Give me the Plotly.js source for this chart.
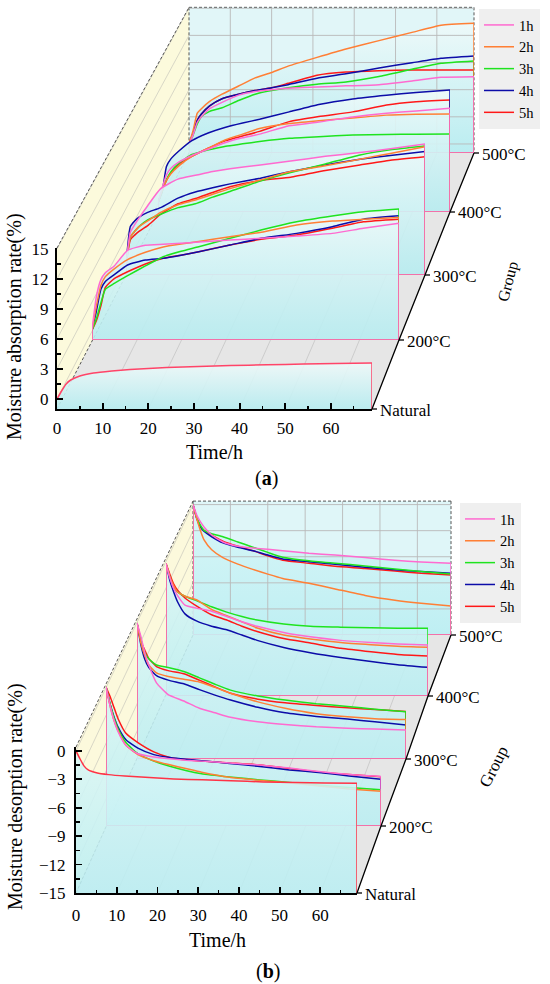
<!DOCTYPE html>
<html>
<head>
<meta charset="utf-8">
<script src="https://cdn.plot.ly/plotly-3.0.1.min.js"></script>
<style>
html,body{margin:0;padding:0;background:#fff;}
#chart{width:550px;height:984px;}
</style>
</head>
<body>
<div id="chart"></div>
<script>
// ================= DATA =================
const time = [0, 1, 2, 3, 5, 8, 12, 16, 20, 24, 31, 38, 46, 54, 61, 69];
const seriesNames = ['1h', '2h', '3h', '4h', '5h'];
const groupNames = ['Natural', '200°C', '300°C', '400°C', '500°C'];
const gridTimes = [10, 20, 30, 40, 50, 60];
const absTicks = [0, 3, 6, 9, 12, 15];
const desTicks = [-15, -12, -9, -6, -3, 0];

// (a) Moisture absorption rate (%) — series order 1h, 2h, 3h, 4h, 5h
const absNatural = [0, 0.8, 1.5, 1.9, 2.3, 2.6, 2.8, 2.95, 3.05, 3.15, 3.25, 3.35, 3.42, 3.5, 3.55, 3.6];
const abs200 = [
  [0, 3.5, 5.2, 5.9, 6.6, 8.2, 8.72, 8.82, 8.92, 9.05, 9.26, 9.43, 9.67, 9.94, 10.46, 10.97],
  [0, 2.5, 4.6, 5.5, 6.3, 7.25, 8.0, 8.55, 8.85, 9.1, 9.6, 10.05, 10.8, 11.2, 11.38, 11.58],
  [0, 1.2, 2.8, 4.2, 4.8, 5.6, 6.6, 7.54, 8.1, 8.57, 9.43, 10.28, 11.13, 11.72, 12.16, 12.44],
  [0, 2.0, 4.2, 5.0, 5.7, 6.7, 7.2, 7.38, 7.7, 8.06, 8.74, 9.43, 9.94, 10.62, 11.4, 11.74],
  [0, 1.0, 2.5, 4.4, 5.3, 6.0, 6.8, 7.38, 7.7, 8.06, 8.74, 9.33, 9.77, 10.46, 11.13, 11.4]
];
const abs300 = [
  [0, 3.5, 4.3, 5.0, 6.3, 8.1, 9.1, 9.5, 9.9, 10.2, 10.6, 11.0, 11.5, 11.9, 12.3, 12.8],
  [0, 3.0, 3.6, 4.1, 4.7, 5.6, 6.4, 6.9, 7.5, 8.1, 9.0, 9.9, 10.5, 11.2, 11.8, 12.5],
  [0, 3.0, 3.6, 4.1, 4.8, 5.4, 6.1, 6.5, 7.2, 7.8, 8.9, 9.8, 10.7, 11.65, 12.2, 12.6],
  [0, 4.1, 4.7, 5.1, 5.6, 6.1, 7.1, 7.75, 8.2, 8.6, 9.2, 9.9, 10.6, 11.2, 11.6, 12.0],
  [0, 2.7, 3.2, 3.6, 4.2, 5.4, 6.5, 7.05, 7.7, 8.3, 8.95, 9.3, 10.0, 10.6, 11.1, 11.47]
];
const abs400 = [
  [0, 1.6, 3.0, 3.7, 4.4, 5.1, 5.8, 6.5, 7.0, 7.4, 8.3, 8.7, 9.25, 9.65, 9.9, 10.19],
  [0, 1.3, 2.4, 3.1, 4.0, 5.0, 5.9, 6.8, 7.4, 8.0, 8.55, 8.85, 9.15, 9.45, 9.55, 9.57],
  [0, 1.3, 2.5, 3.3, 4.3, 5.2, 5.7, 6.1, 6.35, 6.6, 6.95, 7.12, 7.3, 7.35, 7.4, 7.41],
  [0, 1.2, 3.9, 4.7, 5.6, 6.7, 7.55, 8.15, 8.6, 9.0, 9.8, 10.6, 11.2, 11.6, 11.9, 12.16],
  [0, 1.3, 2.4, 3.2, 4.2, 5.0, 5.9, 6.7, 7.2, 7.7, 8.75, 9.3, 9.8, 10.55, 10.9, 11.08]
];
const abs500 = [
  [0, 1.0, 2.4, 3.0, 3.9, 4.6, 5.4, 5.8, 6.0, 6.15, 6.3, 6.42, 6.55, 6.95, 7.36, 7.43],
  [0, 1.5, 3.4, 3.9, 4.7, 5.5, 6.4, 7.3, 7.9, 8.6, 9.57, 10.5, 11.42, 12.33, 13.13, 13.33],
  [0, 1.0, 2.2, 3.0, 3.6, 4.0, 4.8, 5.5, 5.9, 6.2, 6.6, 6.85, 7.45, 8.25, 8.91, 9.17],
  [0, 1.2, 2.6, 3.3, 4.2, 5.0, 5.5, 5.9, 6.2, 6.55, 7.27, 7.75, 8.4, 8.97, 9.46, 9.72],
  [0, 1.2, 2.6, 3.3, 4.2, 5.0, 5.5, 5.9, 6.2, 6.7, 7.6, 7.95, 8.1, 8.17, 8.17, 8.17]
];

// (b) Moisture desorption rate (%)
const desNatural = [0, -0.85, -1.6, -2.0, -2.3, -2.5, -2.65, -2.75, -2.85, -2.95, -3.05, -3.15, -3.27, -3.33, -3.38, -3.42];
const des200 = [
  [0, -2.0, -3.6, -4.8, -6.3, -7.2, -7.55, -7.75, -7.9, -8.0, -8.2, -8.4, -8.75, -9.15, -9.45, -9.65],
  [0, -2.0, -3.6, -4.7, -6.3, -7.3, -7.95, -8.4, -8.8, -9.2, -9.75, -10.05, -10.35, -10.7, -11.0, -11.25],
  [0, -1.8, -3.3, -4.5, -6.0, -7.2, -8.0, -8.55, -9.0, -9.35, -9.7, -10.0, -10.3, -10.6, -10.85, -11.1],
  [0, -1.8, -3.2, -4.3, -5.7, -6.6, -7.3, -7.6, -7.8, -7.95, -8.25, -8.55, -8.95, -9.25, -9.6, -9.96],
  [0, -1.0, -2.2, -3.4, -5.0, -6.0, -7.0, -7.6, -7.85, -8.0, -8.2, -8.4, -8.8, -9.2, -9.45, -9.68]
];
const des300 = [
  [0, -1.5, -3.3, -4.6, -6.6, -7.9, -8.6, -9.4, -9.9, -10.4, -10.9, -11.2, -11.45, -11.6, -11.7, -11.8],
  [0, -2.2, -3.6, -4.6, -5.5, -5.9, -6.2, -6.5, -7.1, -7.75, -8.7, -9.4, -10.0, -10.35, -10.55, -10.65],
  [0, -1.8, -3.3, -3.95, -4.63, -4.9, -5.35, -6.05, -6.75, -7.4, -8.05, -8.5, -8.9, -9.2, -9.5, -9.78],
  [0, -2.4, -4.0, -4.9, -5.8, -6.3, -6.7, -7.35, -7.95, -8.5, -9.3, -9.9, -10.3, -10.6, -10.9, -11.25],
  [0, -2.0, -3.0, -3.9, -4.8, -5.25, -5.6, -6.3, -7.05, -7.75, -8.4, -8.8, -9.1, -9.35, -9.55, -9.75]
];
const des400 = [
  [0, -1.6, -2.8, -3.6, -4.7, -5.05, -5.4, -6.0, -6.6, -7.1, -7.8, -8.3, -8.7, -8.95, -9.1, -9.22],
  [0, -1.5, -2.5, -3.2, -3.7, -4.1, -5.2, -5.9, -6.6, -7.3, -8.1, -8.55, -8.95, -9.2, -9.38, -9.49],
  [0, -1.5, -2.7, -3.2, -3.7, -4.2, -4.9, -5.5, -6.0, -6.4, -6.85, -7.1, -7.2, -7.28, -7.32, -7.34],
  [0, -1.9, -3.2, -4.3, -5.7, -6.5, -7.1, -7.5, -8.1, -8.7, -9.5, -10.1, -10.65, -11.1, -11.45, -11.75],
  [0, -1.2, -2.3, -3.0, -3.9, -4.8, -5.8, -6.4, -7.1, -7.7, -8.5, -9.0, -9.6, -10.0, -10.3, -10.47]
];
const des500 = [
  [0, -1.2, -2.0, -2.6, -3.5, -4.3, -4.8, -5.0, -5.15, -5.3, -5.6, -5.8, -6.1, -6.4, -6.6, -6.76],
  [0, -1.6, -3.0, -4.1, -5.2, -6.1, -6.85, -7.45, -8.0, -8.5, -9.05, -9.7, -10.45, -11.0, -11.35, -11.66],
  [0, -1.5, -2.4, -3.0, -3.35, -3.7, -4.3, -4.9, -5.5, -6.05, -6.46, -6.75, -7.05, -7.4, -7.7, -7.98],
  [0, -1.6, -2.6, -3.1, -3.7, -4.4, -4.9, -5.3, -5.8, -6.25, -6.57, -6.85, -7.2, -7.5, -7.7, -7.9],
  [0, -1.5, -2.5, -3.0, -3.5, -4.2, -4.8, -5.3, -5.9, -6.4, -6.75, -7.1, -7.35, -7.65, -7.9, -8.1]
];

// ================= STYLE / GEOMETRY =================
const W = 550, H = 984, T_MAX = 69;
const FONT = '"Liberation Serif", "Times New Roman", Times, serif';
const LINE_COLORS = ['#ff6ad0', '#ff7f35', '#1fe31f', '#0c0ca8', '#ff1818'];

const panels = [
  {
    natural: absNatural, groups: [null, abs200, abs300, abs400, abs500], ticks: absTicks,
    yRange: [-1, 15.1], base: -1, unit: 10,
    left: [57, 92, 126, 158, 189], right: [372, 399, 425, 450, 474], bottom: [409, 340, 275, 212, 153],
    natColor: '#ff4468',
    fillScale: [[0, 'rgba(182,236,240,0.9)'], [1, 'rgba(238,249,249,0.9)']],
    backColor: '#e1f6f8', wallColor: '#fcfadc', floorColor: '#e6e6e6',
    legend: 'legend', legendPos: [479, 9],
    yTitle: 'Moisture absorption rate(%)', yTitlePos: [15, 327], xTitlePos: [214, 452],
    tag: '(<b>a</b>)', tagPos: [266, 478], groupTitlePos: [508, 282], groupTitleAngle: -75, groupTitleSize: 16,
    xStandoff: 3, yStandoff: 3
  },
  {
    natural: desNatural, groups: [null, des200, des300, des400, des500], ticks: desTicks,
    yRange: [-15, 0.4], base: -15, unit: 9.47,
    left: [76, 106, 137, 166, 193], right: [357, 381, 406, 428, 451], bottom: [893, 826, 759, 696, 635],
    natColor: '#ff3346',
    fillScale: [[0, 'rgba(186,238,242,0.88)'], [1, 'rgba(216,246,247,0.88)']],
    backColor: '#dff6f8', wallColor: '#fcf9dc', floorColor: '#e6e6e6',
    legend: 'legend2', legendPos: [460, 503],
    yTitle: 'Moisture desorption rate(%)', yTitlePos: [15, 797], xTitlePos: [217, 940],
    tag: '(<b>b</b>)', tagPos: [268, 971], groupTitlePos: [493, 767], groupTitleAngle: -63, groupTitleSize: 17,
    xStandoff: 6, yStandoff: 5
  }
];

const px = x => x / W;
const py = y => 1 - y / H;

function pathOf(pts, close) {
  return 'M' + pts.map(p => px(p[0]).toFixed(5) + ',' + py(p[1]).toFixed(5)).join(' L') + (close ? ' Z' : '');
}

const traces = [];
const shapes = [];
const annotations = [];
const layout = {
  width: W, height: H,
  margin: {l: 0, r: 0, t: 0, b: 0},
  paper_bgcolor: '#ffffff',
  plot_bgcolor: 'rgba(0,0,0,0)',
  showlegend: true,
  hovermode: false,
  font: {family: FONT, color: '#000'}
};

panels.forEach((P, p) => {
  const w0 = P.right[0] - P.left[0];
  const span = P.yRange[1] - P.yRange[0];
  const top = P.bottom.map((b, g) => b - P.unit * span * (P.right[g] - P.left[g]) / w0);
  const X = (g, t) => P.left[g] + (P.right[g] - P.left[g]) * t / T_MAX;
  const Y = (g, v) => P.bottom[g] - (P.bottom[g] - top[g]) * (v - P.yRange[0]) / span;

  // ---- box planes ----
  shapes.push({type: 'path', xref: 'paper', yref: 'paper', layer: 'below',
    path: pathOf([[P.left[4], top[4]], [P.right[4], top[4]], [P.right[4], P.bottom[4]], [P.left[4], P.bottom[4]]], true),
    fillcolor: P.backColor, line: {width: 0}});
  shapes.push({type: 'path', xref: 'paper', yref: 'paper', layer: 'below',
    path: pathOf([[P.left[0], P.bottom[0]], [P.left[0], top[0]], [P.left[4], top[4]], [P.left[4], P.bottom[4]]], true),
    fillcolor: P.wallColor, line: {width: 0}});
  shapes.push({type: 'path', xref: 'paper', yref: 'paper', layer: 'below',
    path: pathOf([[P.left[0], P.bottom[0]], [P.right[0], P.bottom[0]], [P.right[4], P.bottom[4]], [P.left[4], P.bottom[4]]], true),
    fillcolor: P.floorColor, line: {width: 0}});
  // depth grid on the side wall and floor
  P.ticks.forEach(v => {
    shapes.push({type: 'line', xref: 'paper', yref: 'paper', layer: 'below',
      x0: px(P.left[0]), y0: py(Y(0, v)), x1: px(P.left[4]), y1: py(Y(4, v)),
      line: {color: 'rgba(170,170,170,0.55)', width: 0.8}});
  });
  gridTimes.forEach(t => {
    shapes.push({type: 'line', xref: 'paper', yref: 'paper', layer: 'below',
      x0: px(X(0, t)), y0: py(P.bottom[0]), x1: px(X(4, t)), y1: py(P.bottom[4]),
      line: {color: 'rgba(175,175,175,0.6)', width: 0.8}});
  });
  // dashed box edges
  const dashed = [
    [[P.left[0], top[0]], [P.left[4], top[4]]],
    [[P.left[4], top[4]], [P.right[4], top[4]]],
    [[P.right[4], top[4]], [P.right[4], P.bottom[4]]],
    [[P.left[4], top[4]], [P.left[4], P.bottom[4]]],
    [[P.left[0], P.bottom[0]], [P.left[4], P.bottom[4]]]
  ];
  dashed.forEach(seg => {
    shapes.push({type: 'line', xref: 'paper', yref: 'paper', layer: 'below',
      x0: px(seg[0][0]), y0: py(seg[0][1]), x1: px(seg[1][0]), y1: py(seg[1][1]),
      line: {color: '#555', width: 1, dash: '3px,2px'}});
  });
  // group (depth) axis
  shapes.push({type: 'path', xref: 'paper', yref: 'paper', layer: 'above',
    path: pathOf(P.right.map((r, g) => [r, P.bottom[g]]), false),
    line: {color: '#000', width: 1.3}});
  P.right.forEach((r, g) => {
    shapes.push({type: 'line', xref: 'paper', yref: 'paper', layer: 'above',
      x0: px(r), y0: py(P.bottom[g]), x1: px(r + 5), y1: py(P.bottom[g]),
      line: {color: '#000', width: 1.3}});
    annotations.push({xref: 'paper', yref: 'paper', x: px(r + 6), y: py(P.bottom[g] + 1),
      xanchor: 'left', yanchor: 'middle', showarrow: false, text: groupNames[g],
      font: {family: FONT, size: 17, color: '#000'}});
  });

  // ---- walls: back (500°C) first, Natural last ----
  for (let g = 4; g >= 0; g--) {
    const n = p * 5 + (4 - g) + 1;
    const xr = n === 1 ? 'x' : 'x' + n;
    const yr = n === 1 ? 'y' : 'y' + n;
    const list = g === 0 ? [P.natural] : P.groups[g];
    const colors = g === 0 ? [P.natColor] : LINE_COLORS;
    const last = time.length - 1;
    const envelope = time.map((_, i) => Math.max(...list.map(s => s[i])));

    traces.push({type: 'scatter', xaxis: xr, yaxis: yr, mode: 'none', hoverinfo: 'skip', showlegend: false,
      x: [...time, time[last], time[0]], y: [...envelope, P.base, P.base],
      fill: 'toself', fillcolor: P.fillScale[0][1],
      fillgradient: {type: 'vertical', colorscale: P.fillScale}});

    if (g === 4) {
      const gx = [], gy = [];
      gridTimes.forEach(t => { gx.push(t, t, null); gy.push(P.yRange[0], P.yRange[1], null); });
      P.ticks.forEach(v => { gx.push(0, T_MAX, null); gy.push(v, v, null); });
      traces.push({type: 'scatter', xaxis: xr, yaxis: yr, mode: 'lines', hoverinfo: 'skip', showlegend: false,
        x: gx, y: gy, line: {color: 'rgba(185,185,185,0.9)', width: 1}});
    }

    for (let k = list.length - 1; k >= 0; k--) {
      const s = list[k];
      // wall outline: drop line at the end, base line and start riser (front wall: drop line only, axes cover the rest)
      const ex = g === 0 ? [time[last], time[last]] : [time[last], time[last], time[0], time[0]];
      const ey = g === 0 ? [s[last], P.base] : [s[last], P.base, P.base, s[0]];
      traces.push({type: 'scatter', xaxis: xr, yaxis: yr, mode: 'lines', hoverinfo: 'skip', showlegend: false,
        x: ex, y: ey, line: {color: colors[k], width: 1.5}});
      traces.push({type: 'scatter', xaxis: xr, yaxis: yr, mode: 'lines', hoverinfo: 'skip',
        x: time, y: s, name: g === 0 ? 'Natural' : seriesNames[k],
        line: {color: colors[k], width: 1.5, shape: 'spline', smoothing: 0.5},
        showlegend: g === 4, legend: P.legend, legendrank: k + 1});
    }

    const isFront = g === 0;
    layout[n === 1 ? 'xaxis' : 'xaxis' + n] = {
      domain: [px(P.left[g]), px(P.right[g])], range: [0, T_MAX], anchor: yr,
      visible: isFront, fixedrange: true, showgrid: false, zeroline: false,
      showline: true, linecolor: '#000', linewidth: 2,
      ticks: 'inside', ticklen: 6, tickwidth: 1.8, tickcolor: '#000', tick0: 0, dtick: 10,
      minor: {ticks: 'inside', ticklen: 3.5, tickwidth: 1.5, tickcolor: '#000', dtick: 5, showgrid: false},
      tickfont: {family: FONT, size: 17, color: '#000'}, ticklabelstandoff: P.xStandoff
    };
    layout[n === 1 ? 'yaxis' : 'yaxis' + n] = {
      domain: [py(P.bottom[g]), py(top[g])], range: P.yRange, anchor: xr,
      visible: isFront, fixedrange: true, showgrid: false, zeroline: false,
      showline: true, linecolor: '#000', linewidth: 2,
      ticks: 'inside', ticklen: 6, tickwidth: 1.8, tickcolor: '#000', tick0: 0, dtick: 3,
      minor: {ticks: 'inside', ticklen: 3.5, tickwidth: 1.5, tickcolor: '#000', dtick: 1.5, showgrid: false},
      tickfont: {family: FONT, size: 17, color: '#000'}, ticklabelstandoff: P.yStandoff
    };
  }

  // ---- legend ----
  layout[P.legend] = {
    x: px(P.legendPos[0]), y: py(P.legendPos[1]), xanchor: 'left', yanchor: 'top',
    bgcolor: '#efefef', borderwidth: 0, traceorder: 'normal', tracegroupgap: 0,
    font: {family: FONT, size: 14.5, color: '#000'}
  };

  // ---- titles ----
  annotations.push({xref: 'paper', yref: 'paper', x: px(P.yTitlePos[0]), y: py(P.yTitlePos[1]),
    xanchor: 'center', yanchor: 'middle', textangle: -90, showarrow: false, text: P.yTitle,
    font: {family: FONT, size: 20, color: '#000'}});
  annotations.push({xref: 'paper', yref: 'paper', x: px(P.xTitlePos[0]), y: py(P.xTitlePos[1]),
    xanchor: 'center', yanchor: 'middle', showarrow: false, text: 'Time/h',
    font: {family: FONT, size: 20, color: '#000'}});
  annotations.push({xref: 'paper', yref: 'paper', x: px(P.tagPos[0]), y: py(P.tagPos[1]),
    xanchor: 'center', yanchor: 'middle', showarrow: false, text: P.tag,
    font: {family: FONT, size: 20, color: '#000'}});
  annotations.push({xref: 'paper', yref: 'paper', x: px(P.groupTitlePos[0]), y: py(P.groupTitlePos[1]),
    xanchor: 'center', yanchor: 'middle', textangle: P.groupTitleAngle, showarrow: false, text: 'Group',
    font: {family: FONT, size: P.groupTitleSize, color: '#000'}});
});

layout.shapes = shapes;
layout.annotations = annotations;

Plotly.newPlot('chart', traces, layout, {staticPlot: true, displayModeBar: false});
</script>
</body>
</html>
